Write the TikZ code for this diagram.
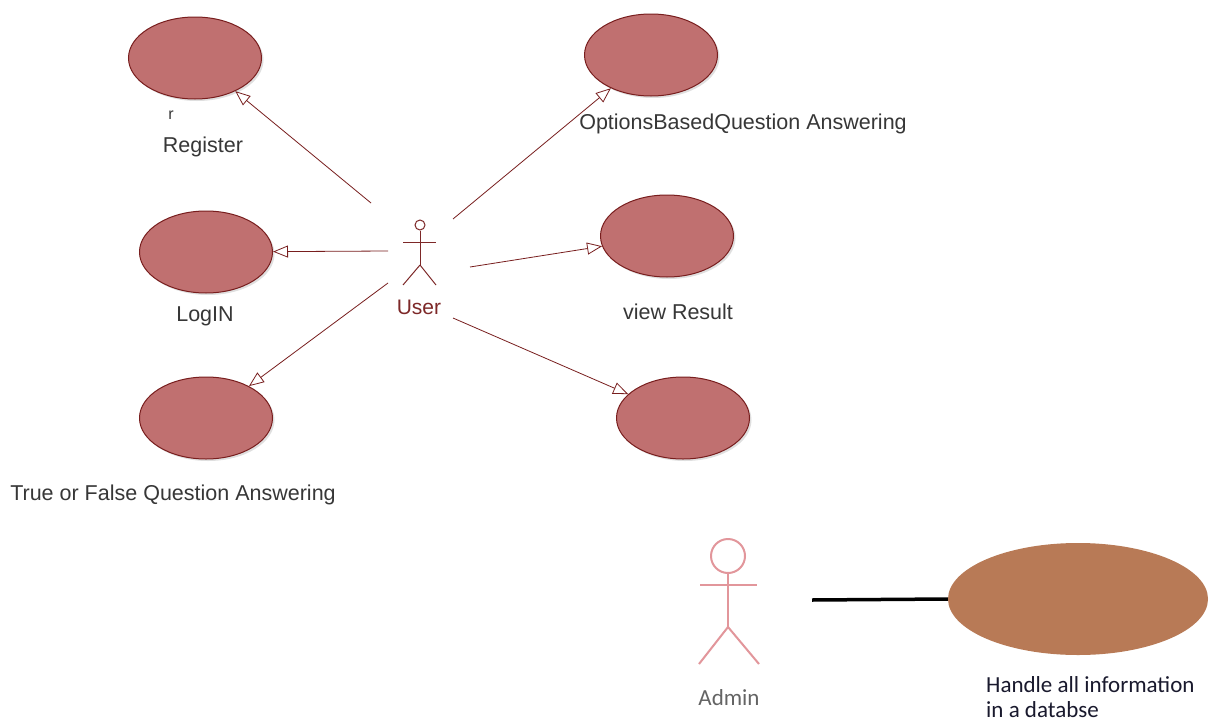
\documentclass[tikz,border=0pt]{standalone}
\usepackage{fontspec}
\setmainfont{Liberation Sans}
\newfontfamily\calfont{Carlito}
\usetikzlibrary{arrows.meta,shapes.geometric,shadows}
\definecolor{ucfill}{RGB}{192,112,112}
\definecolor{ucline}{RGB}{120,30,30}
\definecolor{lbl}{RGB}{55,55,55}
\definecolor{usr}{RGB}{125,40,40}
\definecolor{adm}{RGB}{226,150,155}
\definecolor{dbfill}{RGB}{184,122,86}
\definecolor{admtxt}{RGB}{100,100,100}
\definecolor{dbtxt}{RGB}{25,25,45}
\begin{document}
\begin{tikzpicture}[x=1pt,y=-1pt,
  usecase/.style={ellipse, draw=ucline, fill=ucfill, line width=1pt,
    minimum width=133pt, minimum height=82pt, inner sep=0pt,
    drop shadow={shadow xshift=2pt, shadow yshift=-2pt, opacity=0.25}},
  lab/.style={text=lbl, font=\fontsize{21.5}{25}\selectfont, inner sep=0pt},
  gen/.style={draw=ucline, line width=0.8pt, -{Triangle[open,length=15pt,width=12pt]}},
  useractor/.style={draw=usr, line width=1pt},
  adminactor/.style={draw=adm, line width=2pt},
  caltext/.style={font=\calfont\fontsize{23}{25}\selectfont, inner sep=0pt}]
\useasboundingbox (0,0) rectangle (1210,720);
\fill[white] (0,0) rectangle (1210,720);

% use cases
\node[usecase] (reg) at (195,58) {};
\node[usecase] (login) at (206,252) {};
\node[usecase] (tf) at (206,418) {};
\node[usecase] (opt) at (651,55) {};
\node[usecase] (view) at (667,236) {};
\node[usecase] (blank) at (683,418) {};

% labels
\node[lab, font=\fontsize{16}{18}\selectfont] (rlab) at (171,115) {r};
\node[lab] (reglab) at (203,147) {Register};
\node[lab] (loglab) at (205,316) {LogIN};
\node[lab] (tflab) at (173,495) {True or False Question Answering};
\node[lab] (optlab) at (743,124) {OptionsBasedQuestion Answering};
\node[lab] (viewlab) at (678,312) {view Result};

% user actor
\node[circle, draw=usr, line width=1pt, minimum size=10pt, inner sep=0pt] (uhead) at (420,225) {};
\draw[useractor] (403,242) -- (436,242);
\draw[useractor] (uhead.south) -- (420,265) coordinate (uhip);
\draw[useractor] (uhip) -- (403,285);
\draw[useractor] (uhip) -- (436,285);
\node[text=usr, font=\fontsize{21}{24}\selectfont, inner sep=0pt] (user) at (419,307) {User};

% connector start points
\coordinate (s1) at (371,203);
\coordinate (s2) at (388,251);
\coordinate (s3) at (388,283);
\coordinate (s4) at (453,219);
\coordinate (s5) at (470,267);
\coordinate (s6) at (453,318);

\draw[gen] (s1) -- (reg);
\draw[gen] (s2) -- (login);
\draw[gen] (s3) -- (tf);
\draw[gen] (s4) -- (opt);
\draw[gen] (s5) -- (view);
\draw[gen] (s6) -- (blank);

% admin actor
\node[circle, draw=adm, line width=2pt, minimum size=34pt, inner sep=0pt] (ahead) at (728,556) {};
\draw[adminactor] (700,585) -- (757,585);
\draw[adminactor] (ahead.south) -- (728,627) coordinate (ahip);
\draw[adminactor] (ahip) -- (699,664);
\draw[adminactor] (ahip) -- (759,664);
\node[caltext, text=admtxt] (admin) at (729,698) {Admin};

% database use case
\node[ellipse, fill=dbfill, minimum width=260pt, minimum height=112pt, inner sep=0pt] (db) at (1078,599) {};
\coordinate (a1) at (812,600);
\draw[black, line width=3.5pt] (a1) -- (db.west);
\node[caltext, text=dbtxt, anchor=north west, align=left] (dblab) at (986,676) {Handle all information\\in a databse};
\end{tikzpicture}
\end{document}
